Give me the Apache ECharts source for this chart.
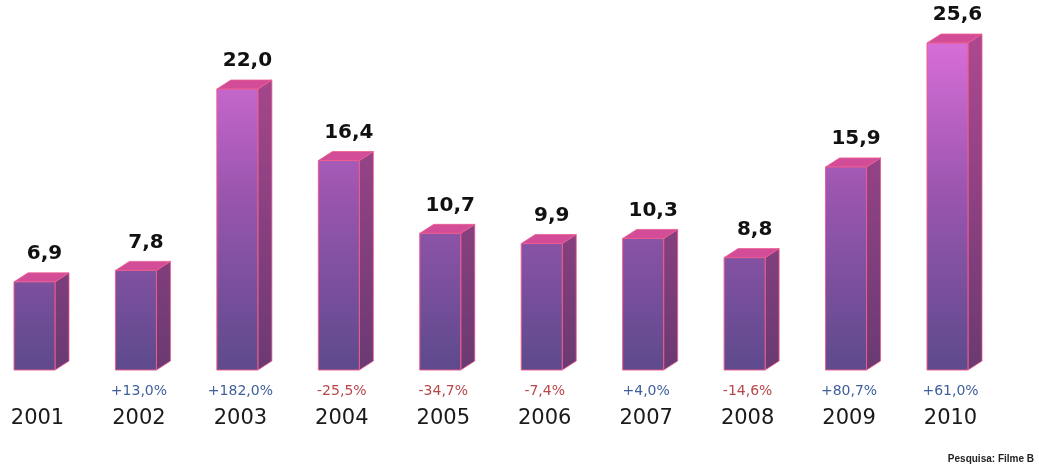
<!DOCTYPE html>
<html>
<head>
<meta charset="utf-8">
<script src="https://cdn.jsdelivr.net/npm/echarts@6/dist/echarts.min.js"></script>
<style>
  html, body { margin: 0; padding: 0; background: #ffffff; }
  #chart { width: 1039px; height: 471px; }
</style>
</head>
<body>
<div id="chart"></div>
<script>
// Annual figures (millions) with year-over-year change
const years = ['2001', '2002', '2003', '2004', '2005', '2006', '2007', '2008', '2009', '2010'];
const values = [6.9, 7.8, 22.0, 16.4, 10.7, 9.9, 10.3, 8.8, 15.9, 25.6];
const changes = ['', '+13,0%', '+182,0%', '-25,5%', '-34,7%', '-7,4%', '+4,0%', '-14,6%', '+80,7%', '+61,0%'];
const sourceNote = 'Pesquisa: Filme B';

const BAR_W = 41;   // front face width
const DX = 14;      // depth offset to the right
const DY = 9;       // depth offset upwards

const frontFill = {
  type: 'linear', x: 0, y: 40, x2: 0, y2: 370, global: true,
  colorStops: [
    { offset: 0, color: '#d86ed8' },
    { offset: 0.45, color: '#9c56b0' },
    { offset: 1, color: '#5d4a8c' }
  ]
};
const sideFill = {
  type: 'linear', x: 0, y: 40, x2: 0, y2: 370, global: true,
  colorStops: [
    { offset: 0, color: '#ac4890' },
    { offset: 1, color: '#6a3a72' }
  ]
};
const topFill = '#d24c98';
const edge = '#ee5c8e';

function fmt(v) { return v.toFixed(1).replace('.', ','); }

function renderBox(params, api) {
  const idx = api.value(0);
  const v = api.value(1);
  const top = api.coord([idx, v]);
  const base = api.coord([idx, 0]);
  const x0 = top[0] - BAR_W / 2;
  const x1 = top[0] + BAR_W / 2;
  const y0 = top[1];
  const yb = base[1];
  return {
    type: 'group',
    children: [
      {
        type: 'polygon',
        shape: { points: [[x1, y0], [x1 + DX, y0 - DY], [x1 + DX, yb - DY], [x1, yb]] },
        style: { fill: sideFill, stroke: edge, lineWidth: 0.8 }
      },
      {
        type: 'polygon',
        shape: { points: [[x0, y0], [x0 + DX, y0 - DY], [x1 + DX, y0 - DY], [x1, y0]] },
        style: { fill: topFill, stroke: edge, lineWidth: 0.8 }
      },
      {
        type: 'rect',
        shape: { x: x0, y: y0, width: BAR_W, height: yb - y0 },
        style: { fill: frontFill, stroke: edge, lineWidth: 1 }
      },
      {
        type: 'text',
        style: {
          text: fmt(v),
          x: top[0] + DX / 2 + 3,
          y: y0 - DY - 9,
          align: 'center',
          verticalAlign: 'bottom',
          fill: '#111111',
          font: 'bold 20px "DejaVu Sans", sans-serif'
        }
      }
    ]
  };
}

const chart = echarts.init(document.getElementById('chart'), null, { renderer: 'canvas' });

chart.setOption({
  backgroundColor: '#ffffff',
  animation: false,
  grid: { left: 34.5, right: 91.5, top: 6, bottom: 101, containLabel: false },
  xAxis: {
    type: 'category',
    data: years,
    boundaryGap: false,
    axisLine: { show: false },
    axisTick: { show: false },
    axisLabel: {
      interval: 0,
      margin: 8,
      padding: [0, 0, 0, 6],
      formatter: function (val, i) {
        const c = changes[i];
        const style = c === '' ? 'p' : (c.charAt(0) === '-' ? 'n' : 'p');
        return '{' + style + '|' + (c === '' ? ' ' : c) + '}\n{y|' + val + '}';
      },
      rich: {
        p: { color: '#3f5f9c', fontSize: 14, lineHeight: 26, fontFamily: '"DejaVu Sans", sans-serif' },
        n: { color: '#b8474a', fontSize: 14, lineHeight: 26, fontFamily: '"DejaVu Sans", sans-serif' },
        y: { color: '#1a1a1a', fontSize: 21, lineHeight: 30, fontFamily: '"DejaVu Sans", sans-serif' }
      }
    }
  },
  yAxis: {
    type: 'value',
    min: 0,
    max: 28.5,
    show: false,
    splitLine: { show: false }
  },
  series: [{
    type: 'custom',
    renderItem: renderBox,
    data: values.map(function (v, i) { return [i, v]; }),
    encode: { x: 0, y: 1 },
    clip: false
  }],
  graphic: [{
    type: 'text',
    right: 5,
    top: 454,
    style: {
      text: sourceNote,
      fill: '#222222',
      font: 'bold 10px "Liberation Sans", Arial, sans-serif'
    }
  }]
});
</script>
</body>
</html>
